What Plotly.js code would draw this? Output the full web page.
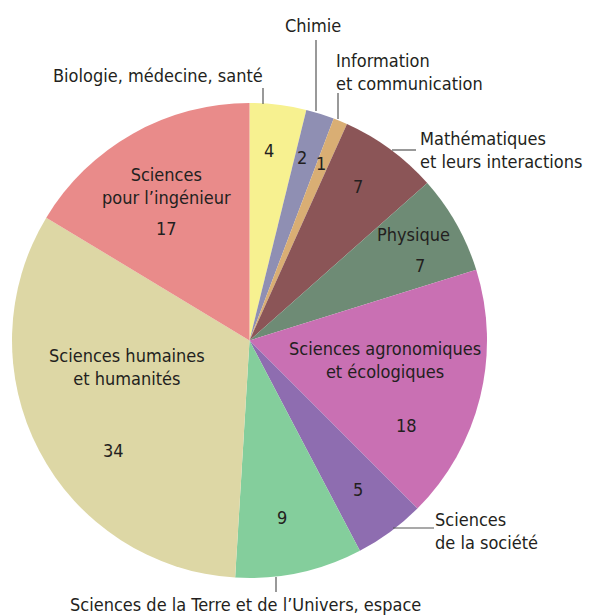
<!DOCTYPE html>
<html><head><meta charset="utf-8">
<script src="https://cdn.plot.ly/plotly-3.0.1.min.js"></script>
<style>html,body{margin:0;padding:0;background:#fff}</style>
</head><body>
<div id="chart" style="width:589px;height:615px"></div>
<script>
var categories = ["Biologie, médecine, santé","Chimie","Information et communication","Mathématiques et leurs interactions","Physique","Sciences agronomiques et écologiques","Sciences de la société","Sciences de la Terre et de l’Univers, espace","Sciences humaines et humanités","Sciences pour l’ingénieur"];
var values = [4,2,1,7,7,18,5,9,34,17];
var colors = ["#f7f190","#8f8fb3","#d9ae74","#8b5557","#6e8b75","#c970b3","#8e6db0","#84ce9c","#ddd7a5","#e98b8a"];

var W = 589, H = 615;
function px(x){return x/W;}
function py(y){return 1 - y/H;}
var FONT = "Liberation Sans Narrow, DejaVu Sans Condensed, Arial Narrow, sans-serif";
var fc = "#231f20";
var FS = 18;

// inner labels: [text, x, y]
var inner = [
  [String(values[0]), 269, 150],
  [String(values[1]), 302, 157],
  [String(values[2]), 321, 164],
  [String(values[3]), 358, 186],
  ["Physique", 413, 235],
  [String(values[4]), 420, 265],
  ["Sciences agronomiques<br>et écologiques", 385, 360],
  [String(values[5]), 406, 426],
  [String(values[6]), 358, 489],
  [String(values[7]), 282, 517],
  ["Sciences humaines<br>et humanités", 127, 367],
  [String(values[8]), 113, 451],
  ["Sciences<br>pour l’ingénieur", 166, 186],
  [String(values[9]), 166, 228]
];
var annotations = inner.map(function(a){
  return {text:a[0], x:px(a[1]), y:py(a[2]), xref:'paper', yref:'paper', showarrow:false,
    xanchor:'center', yanchor:'middle', font:{family:FONT,size:FS,color:fc}, align:'center'};
});
// outer labels
var outer = [
  ["Biologie, médecine, santé", 158, 75, 'center'],
  ["Chimie", 313, 25, 'center'],
  ["Information<br>et communication", 334, 72, 'left'],
  ["Mathématiques<br>et leurs interactions", 418, 150, 'left'],
  ["Sciences<br>de la société", 433, 531, 'left'],
  ["Sciences de la Terre et de l’Univers, espace", 245, 604, 'center']
];
outer.forEach(function(a){
  annotations.push({text:a[0], x:px(a[1]), y:py(a[2]), xref:'paper', yref:'paper', showarrow:false,
    xanchor:a[3], yanchor:'middle', font:{family:FONT,size:FS,color:fc}, align:a[3]});
});
var leaders = [[263,88,263,104],[316,40,316,111],[338,93,338,119],[392,150,416,150],[393,528,434,528],[276,577,276,592]];
var shapes = leaders.map(function(l){
  return {type:'line', xref:'paper', yref:'paper', x0:px(l[0]), y0:py(l[1]), x1:px(l[2]), y1:py(l[3]),
    line:{color:'#555', width:1.2}};
});

var trace = {
  type:'pie', labels:categories, values:values, sort:false, direction:'clockwise', rotation:0,
  marker:{colors:colors, line:{width:0}}, textinfo:'none', hoverinfo:'label+value',
  domain:{x:[px(12), px(487)], y:[py(578), py(103)]}
};
Plotly.newPlot('chart',[trace],{
  width:W, height:H, margin:{l:0,r:0,t:0,b:0}, showlegend:false,
  paper_bgcolor:'#fff', annotations:annotations, shapes:shapes
},{displayModeBar:false, staticPlot:true});
</script>
</body></html>
